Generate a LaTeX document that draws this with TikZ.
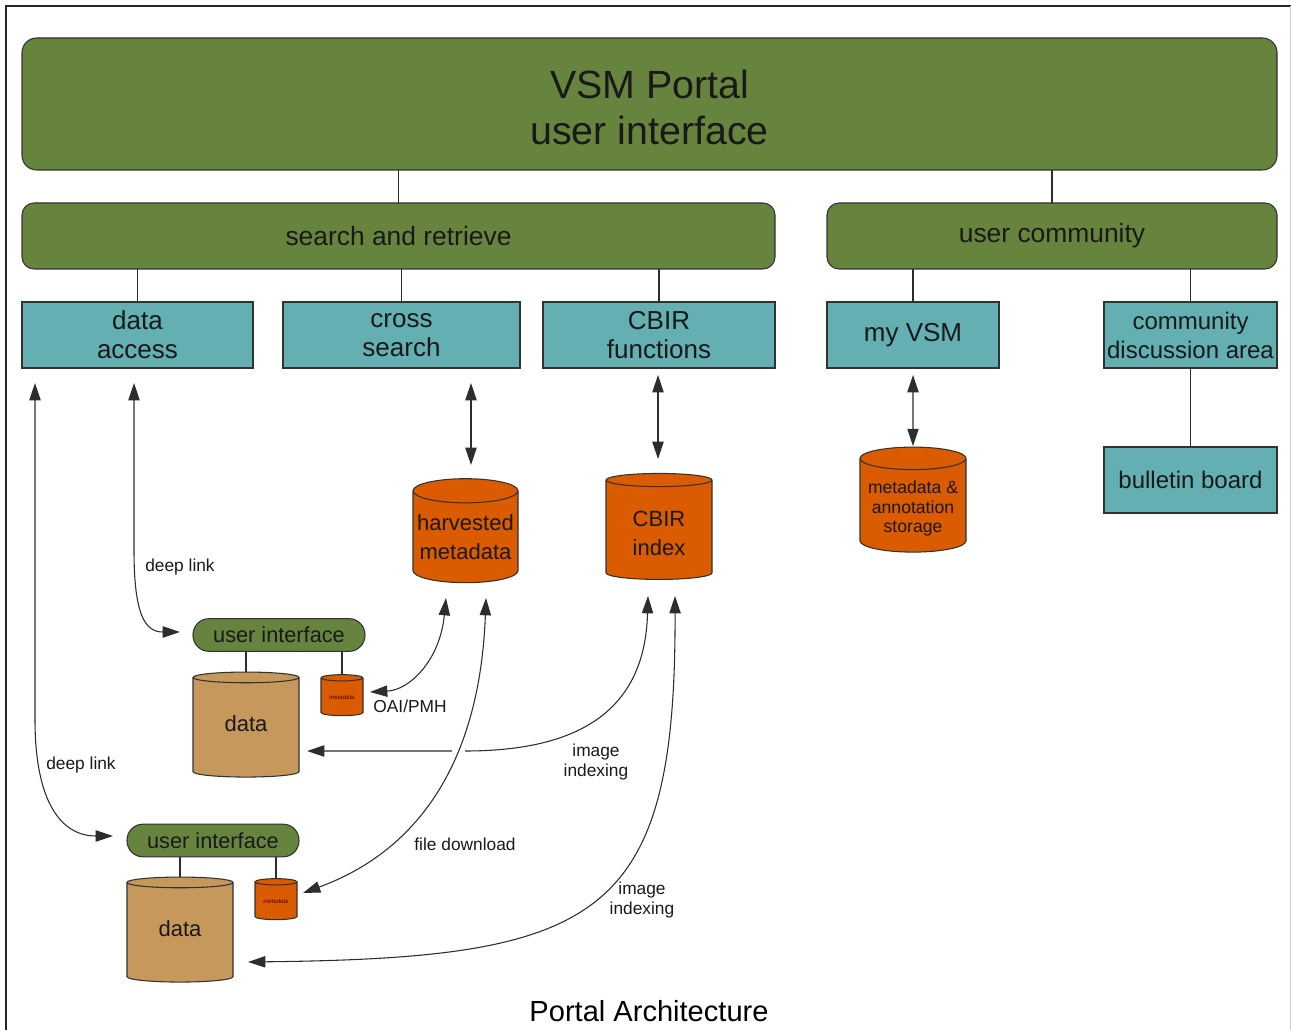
\documentclass[tikz,border=0pt]{standalone}
\usepackage{fontspec}
\setmainfont{Liberation Sans}
\usetikzlibrary{shapes.geometric,arrows.meta,calc}
\definecolor{grn}{RGB}{102,132,62}
\definecolor{teal2}{RGB}{100,175,177}
\definecolor{org}{RGB}{218,91,0}
\definecolor{tan2}{RGB}{198,152,92}
\definecolor{bord}{RGB}{50,50,50}
\definecolor{linec}{RGB}{45,45,45}
\definecolor{txt}{RGB}{25,25,25}
\newcommand{\pushdown}[2]{\raisebox{0pt}[\dimexpr\height+#1\relax][\depth]{#2}}
\newcommand{\pushup}[2]{\raisebox{0pt}[\height][\dimexpr\depth+#1\relax]{#2}}
\begin{document}
\begin{tikzpicture}[x=0.75pt,y=-0.75pt,
  every node/.style={text=txt, inner sep=0pt, outer sep=0pt, align=center},
  gbox/.style={draw=bord, line width=0.8pt, fill=grn, rounded corners=9pt},
  tbox/.style={draw=bord, line width=0.8pt, fill=teal2, minimum height=49.5pt,
    font=\fontsize{19.5}{21.75}\selectfont},
  cyl/.style={cylinder, shape border rotate=90, draw=bord, line width=0.8pt, aspect=0.25},
  pill/.style={draw=bord, line width=0.8pt, fill=grn, rounded corners=12pt,
    minimum width=129pt, minimum height=24.5pt, font=\fontsize{16.3}{18}\selectfont},
  conn/.style={draw=linec, line width=0.8pt},
  arr/.style={conn, {Triangle[length=13pt,width=8.5pt]}-{Triangle[length=13pt,width=8.5pt]}},
  lbl/.style={font=\fontsize{13}{15}\selectfont}
]
\useasboundingbox (0,0) rectangle (1291,1030);
% frame
\draw[line width=1pt, black!85] (6,1030) -- (6,6) -- (1291,6);
\draw[line width=0.6pt, black!20] (1290,6) -- (1290,1030);

% top levels
\node[gbox, minimum width=941.25pt, minimum height=99pt, rounded corners=11pt,
  font=\fontsize{29.5}{33}\selectfont] (top) at (649.5,104) {\pushdown{5.2pt}{\shortstack{VSM Portal\\[9.85pt]user interface}}};
\node[gbox, minimum width=564.75pt, minimum height=49.5pt,
  font=\fontsize{19.8}{22}\selectfont] (sr) at (398.5,236) {search and retrieve};
\node[gbox, minimum width=337.5pt, minimum height=49.5pt,
  font=\fontsize{19.8}{22}\selectfont] (uc) at (1052,236) {user community};

% teal boxes
\node[tbox, minimum width=173.25pt] (da) at (137.5,335) {data\\access};
\node[tbox, minimum width=177.75pt] (cs) at (401.5,335) {cross\\search};
\node[tbox, minimum width=174pt] (cbf) at (659,335) {CBIR\\functions};
\node[tbox, minimum width=129pt] (vsm) at (913,335) {my VSM};
\node[tbox, minimum width=129.75pt, font=\fontsize{18}{21.75}\selectfont] (cda) at (1190.5,335) {community\\discussion area};
\node[tbox, minimum width=129.75pt, font=\fontsize{18}{21.75}\selectfont] (bb) at (1190.5,480) {bulletin board};

% tree connectors
\draw[conn] (sr.north) -- (sr.north |- top.south);
\draw[conn] (uc.north) -- (uc.north |- top.south);
\draw[conn] (da.north) -- (da.north |- sr.south);
\draw[conn] (cs.north) -- (cs.north |- sr.south);
\draw[conn] (cbf.north) -- (cbf.north |- sr.south);
\draw[conn] (vsm.north) -- (vsm.north |- uc.south);
\draw[conn] (cda.north) -- (cda.north |- uc.south);
\draw[conn] (cda.south) -- (bb.north);

% databases
\node[cyl, fill=org, minimum width=78.75pt, minimum height=78pt,
  font=\fontsize{16.5}{21.75}\selectfont] (hm) at (465.5,537) {\shortstack{harvested\\[6.75pt]metadata}};
\node[cyl, fill=org, minimum width=79.5pt, minimum height=79.5pt,
  font=\fontsize{16.5}{21.75}\selectfont] (cidx) at (659,530) {\pushdown{5.2pt}{\shortstack{CBIR\\[6.75pt]index}}};
\node[cyl, fill=org, minimum width=79.5pt, minimum height=78.75pt,
  font=\fontsize{13.2}{15}\selectfont] (mas) at (913,505.5) {\pushdown{4.5pt}{\shortstack{metadata \&\\[2.25pt]annotation\\[2.25pt]storage}}};

% user interfaces with local stores
\node[pill] (ui1) at (279,635) {user interface};
\node[cyl, fill=tan2, minimum width=79.5pt, minimum height=78.75pt,
  font=\fontsize{16.5}{18}\selectfont] (d1) at (246,727.5) {\pushup{6pt}{data}};
\node[cyl, fill=org, minimum width=31.5pt, minimum height=30.75pt,
  font=\fontsize{4.5}{5}\selectfont, text=black!70!red] (m1) at (342,697) {metadata};
\draw[conn] (d1.north) -- (d1.north |- ui1.south);
\draw[conn] (m1.north) -- (m1.north |- ui1.south);

\node[pill] (ui2) at (213,840.5) {user interface};
\node[cyl, fill=tan2, minimum width=79.5pt, minimum height=78.75pt,
  font=\fontsize{16.5}{18}\selectfont] (d2) at (180,932.5) {\pushup{6pt}{data}};
\node[cyl, fill=org, minimum width=31.5pt, minimum height=30.75pt,
  font=\fontsize{4.5}{5}\selectfont, text=black!70!red] (m2) at (276,901) {metadata};
\draw[conn] (d2.north) -- (d2.north |- ui2.south);
\draw[conn] (m2.north) -- (m2.north |- ui2.south);

% vertical double arrows
\draw[arr] ($(cs.south)+(69.5,15)$) -- (471,465);
\draw[arr] ($(cbf.south)+(-1,7)$) -- (658,459);
\draw[arr] ($(vsm.south)+(0,7)$) -- ($(mas.north)+(0,-1)$);

% deep links
\draw[arr] ($(da.south)+(-3.5,15)$) -- (134,550) .. controls (134,615) and (145,632) .. ($(ui1.west)+(-13,-3)$);
\node[lbl] (dl1) at (180,567) {deep link};
\draw[arr] ($(da.south)+(-102.5,15)$) -- (35,720) .. controls (35,800) and (60,836) .. ($(ui2.west)+(-14,-4.5)$);
\node[lbl] (dl2) at (81,765) {deep link};

% OAI/PMH
\draw[arr] (446,598) .. controls (440,660) and (410,690) .. ($(m1.east)+(7,-5)$);
\node[lbl] (oai) at (410,706) {OAI/PMH};

% image indexing 1 (interrupted where it passes the file download line)
\draw[conn, {Triangle[length=13pt,width=8.5pt]}-] (648,596) .. controls (645,710) and (580,751) .. (465,751);
\draw[conn, -{Triangle[length=13pt,width=8.5pt]}] (452,751) -- ($(d1.east)+(8,23.5)$);
\node[lbl] (ii1) at (596,762) {image\\indexing};

% file download
\draw[arr] (486,598) .. controls (480,760) and (420,850) .. ($(m2.east)+(6,-8)$);
\node[lbl] (fd) at (465,844) {file download};

% image indexing 2
\draw[arr] (675,596) .. controls (676,920) and (600,958) .. ($(d2.east)+(15,29.5)$);
\node[lbl] (ii2) at (642,900) {image\\indexing};

% caption
\node[font=\fontsize{21.8}{24}\selectfont, text=black] (cap) at (649,1011) {Portal Architecture};
\end{tikzpicture}
\end{document}
